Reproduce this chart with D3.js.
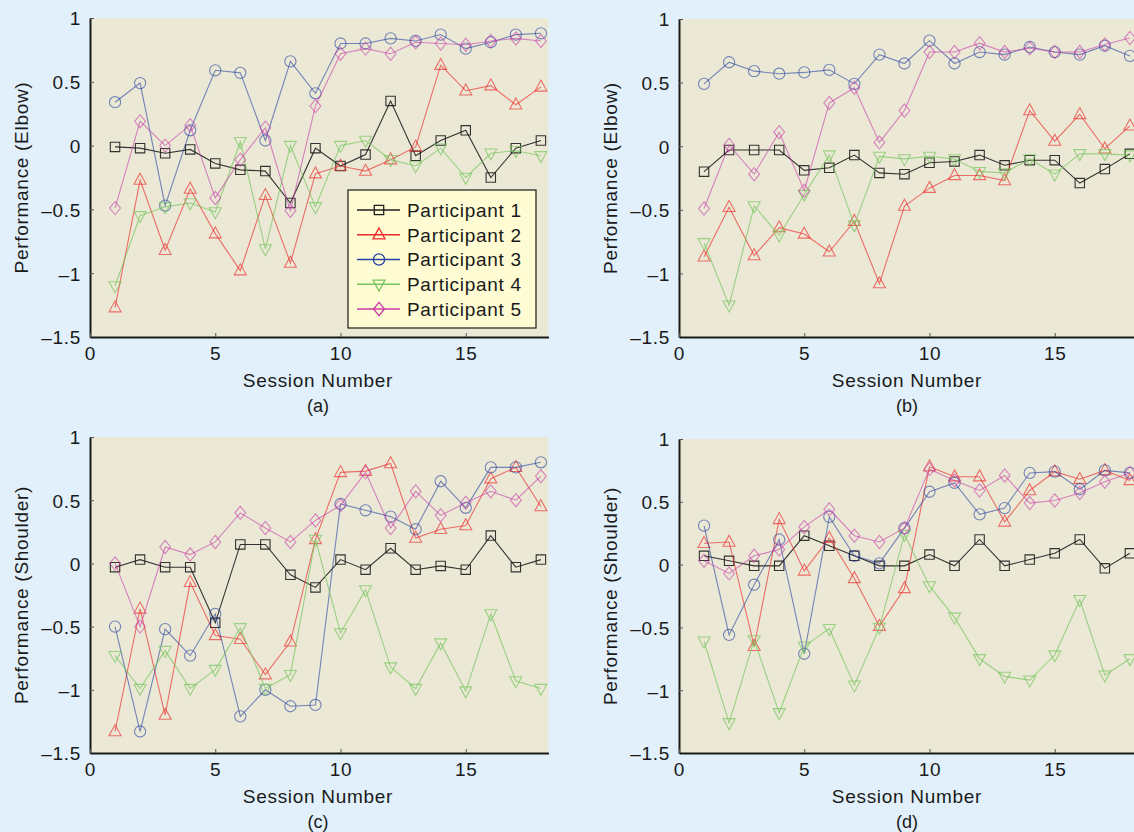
<!DOCTYPE html>
<html>
<head>
<meta charset="utf-8">
<script src="https://cdn.jsdelivr.net/npm/d3@7"></script>
<style>
  body { margin: 0; background: #e1f0fa; }
  text { font-family: "Liberation Sans", Arial, sans-serif; fill: #1a1a1a; }
</style>
</head>
<body>
<div id="chart"></div>
<script>
// Sessions and tick labels
const sessions = [1, 2, 3, 4, 5, 6, 7, 8, 9, 10, 11, 12, 13, 14, 15, 16, 17, 18];
const xTicks = [0, 5, 10, 15];
const yTicks = [-1.5, -1, -0.5, 0, 0.5, 1];
const yTickLabels = ["\u20131.5", "\u20131", "\u20130.5", "0", "0.5", "1"];
const participants = ["Participant 1", "Participant 2", "Participant 3", "Participant 4", "Participant 5"];

// (a) elbow
const elbowA1 = [-0.01, -0.02, -0.06, -0.03, -0.14, -0.19, -0.2, -0.45, -0.02, -0.16, -0.07, 0.35, -0.08, 0.04, 0.12, -0.25, -0.02, 0.04];
const elbowA2 = [-1.27, -0.27, -0.82, -0.34, -0.69, -0.98, -0.39, -0.92, -0.22, -0.16, -0.2, -0.11, -0.01, 0.63, 0.43, 0.47, 0.32, 0.46];
const elbowA3 = [0.34, 0.49, -0.47, 0.12, 0.59, 0.57, 0.04, 0.66, 0.41, 0.8, 0.8, 0.84, 0.82, 0.87, 0.76, 0.81, 0.87, 0.88];
const elbowA4 = [-1.1, -0.55, -0.48, -0.45, -0.52, 0.03, -0.81, 0.0, -0.48, 0.0, 0.04, -0.11, -0.16, -0.02, -0.25, -0.06, -0.04, -0.08];
const elbowA5 = [-0.49, 0.19, 0.0, 0.16, -0.41, -0.11, 0.14, -0.51, 0.31, 0.72, 0.76, 0.72, 0.81, 0.8, 0.79, 0.82, 0.84, 0.82];

// (b) elbow
const elbowB1 = [-0.2, -0.03, -0.03, -0.03, -0.19, -0.17, -0.07, -0.21, -0.22, -0.13, -0.12, -0.07, -0.15, -0.11, -0.11, -0.29, -0.18, -0.06];
const elbowB2 = [-0.87, -0.48, -0.86, -0.64, -0.69, -0.83, -0.59, -1.08, -0.47, -0.33, -0.23, -0.23, -0.27, 0.28, 0.04, 0.25, -0.02, 0.16];
const elbowB3 = [0.49, 0.66, 0.59, 0.57, 0.58, 0.6, 0.49, 0.72, 0.65, 0.83, 0.65, 0.74, 0.72, 0.78, 0.74, 0.72, 0.79, 0.71];
const elbowB4 = [-0.76, -1.25, -0.47, -0.7, -0.38, -0.07, -0.62, -0.08, -0.1, -0.08, -0.1, -0.2, -0.21, -0.1, -0.22, -0.06, -0.06, -0.07];
const elbowB5 = [-0.49, 0.01, -0.22, 0.11, -0.35, 0.34, 0.46, 0.03, 0.28, 0.74, 0.74, 0.81, 0.74, 0.77, 0.74, 0.74, 0.8, 0.85];

// (c) shoulder
const shoulderC1 = [-0.03, 0.03, -0.03, -0.03, -0.47, 0.15, 0.15, -0.09, -0.19, 0.03, -0.05, 0.12, -0.05, -0.02, -0.05, 0.22, -0.03, 0.03];
const shoulderC2 = [-1.33, -0.36, -1.2, -0.15, -0.57, -0.6, -0.88, -0.62, 0.19, 0.72, 0.73, 0.79, 0.2, 0.27, 0.3, 0.67, 0.76, 0.45];
const shoulderC3 = [-0.5, -1.33, -0.52, -0.73, -0.4, -1.21, -1.0, -1.13, -1.12, 0.47, 0.42, 0.37, 0.27, 0.65, 0.44, 0.76, 0.76, 0.8];
const shoulderC4 = [-0.73, -0.99, -0.69, -0.99, -0.84, -0.51, -0.99, -0.88, 0.19, -0.55, -0.21, -0.82, -0.99, -0.63, -1.01, -0.4, -0.93, -0.99];
const shoulderC5 = [0.0, -0.5, 0.13, 0.07, 0.17, 0.4, 0.28, 0.17, 0.34, 0.46, 0.72, 0.28, 0.57, 0.38, 0.48, 0.57, 0.5, 0.69];

// (d) shoulder
const shoulderD1 = [0.07, 0.03, -0.01, -0.01, 0.23, 0.15, 0.07, -0.01, -0.01, 0.08, -0.01, 0.2, -0.01, 0.04, 0.09, 0.2, -0.03, 0.09];
const shoulderD2 = [0.17, 0.18, -0.65, 0.36, -0.05, 0.21, -0.11, -0.49, -0.19, 0.78, 0.7, 0.7, 0.34, 0.59, 0.74, 0.68, 0.75, 0.67];
const shoulderD3 = [0.31, -0.56, -0.16, 0.2, -0.71, 0.38, 0.07, 0.01, 0.29, 0.58, 0.65, 0.4, 0.45, 0.73, 0.74, 0.6, 0.75, 0.73];
const shoulderD4 = [-0.61, -1.26, -0.6, -1.18, -0.65, -0.51, -0.96, -0.5, 0.24, -0.17, -0.42, -0.75, -0.89, -0.92, -0.72, -0.28, -0.88, -0.75];
const shoulderD5 = [0.03, -0.07, 0.07, 0.12, 0.3, 0.44, 0.23, 0.18, 0.29, 0.76, 0.67, 0.59, 0.71, 0.49, 0.51, 0.57, 0.66, 0.73];

// Series styles
const colors = ["#1e1e1e", "#ec2a2a", "#2440a0", "#78c45e", "#c83ca8"];
const plotOpacity = [0.9, 0.65, 0.6, 0.7, 0.6];
const markers = [
  "M-4.7,-4.7H4.7V4.7H-4.7Z",
  "M0,-6.8L6,4.2H-6Z",
  "M5.6,0A5.6,5.6 0 1,1 -5.6,0A5.6,5.6 0 1,1 5.6,0Z",
  "M0,6.8L6,-4.2H-6Z",
  "M0,-6.6L5.4,0L0,6.6L-5.4,0Z"
];

const panels = [
  { tag: "(a)", ylabel: "Performance (Elbow)", left: 90, top: 18, bottom: 337, series: [elbowA1, elbowA2, elbowA3, elbowA4, elbowA5], legend: true },
  { tag: "(b)", ylabel: "Performance (Elbow)", left: 679, top: 19, bottom: 337, series: [elbowB1, elbowB2, elbowB3, elbowB4, elbowB5] },
  { tag: "(c)", ylabel: "Performance (Shoulder)", left: 90, top: 437, bottom: 753, series: [shoulderC1, shoulderC2, shoulderC3, shoulderC4, shoulderC5] },
  { tag: "(d)", ylabel: "Performance (Shoulder)", left: 679, top: 439, bottom: 753, series: [shoulderD1, shoulderD2, shoulderD3, shoulderD4, shoulderD5] }
];

const svg = d3.select("#chart")
  .append("svg")
  .attr("width", 1134)
  .attr("height", 832);

const fontSize = "19px";
const spacing = "0.7px";

panels.forEach(p => {
  const x = d3.scaleLinear().domain([0, 18.3]).range([p.left, p.left + 18.3 * 25.05]);
  const y = d3.scaleLinear().domain([-1.5, 1]).range([p.bottom, p.top]);
  const g = svg.append("g");

  // plot background
  g.append("rect")
    .attr("x", x(0))
    .attr("y", y(1))
    .attr("width", x(18.3) - x(0))
    .attr("height", y(-1.5) - y(1))
    .attr("fill", "#ebe9d6");

  // axes
  const yAxis = g.append("g")
    .attr("transform", "translate(" + x(0) + ",0)")
    .call(d3.axisLeft(y).tickValues(yTicks).tickSizeInner(-4).tickSizeOuter(0).tickPadding(9)
      .tickFormat((d, i) => yTickLabels[i]));
  const xAxis = g.append("g")
    .attr("transform", "translate(0," + y(-1.5) + ")")
    .call(d3.axisBottom(x).tickValues(xTicks).tickSizeInner(-4).tickSizeOuter(0).tickPadding(9)
      .tickFormat(d3.format("d")));
  [yAxis, xAxis].forEach(a => {
    a.select(".domain").attr("stroke", "#1a1a1a").attr("stroke-width", 2);
    a.selectAll(".tick line").attr("stroke", "#555");
    a.selectAll("text")
      .attr("font-size", fontSize)
      .attr("letter-spacing", spacing)
      .attr("fill", "#1a1a1a")
      .attr("font-family", "'Liberation Sans', Arial, sans-serif");
  });
  yAxis.selectAll("text").attr("dy", "0.36em");
  xAxis.selectAll("text").attr("dy", "0.75em");

  // labels
  g.append("text")
    .attr("transform", "translate(" + (x(0) - 67) + "," + ((y(1) + y(-1.5)) / 2) + ") rotate(-90)")
    .attr("text-anchor", "middle")
    .attr("dominant-baseline", "middle")
    .attr("font-size", fontSize)
    .attr("letter-spacing", spacing)
    .text(p.ylabel);
  g.append("text")
    .attr("x", x(9.1))
    .attr("y", y(-1.5) + 50)
    .attr("text-anchor", "middle")
    .attr("font-size", fontSize)
    .attr("letter-spacing", spacing)
    .text("Session Number");
  g.append("text")
    .attr("x", x(9.1))
    .attr("y", y(-1.5) + 75)
    .attr("text-anchor", "middle")
    .attr("font-size", "18px")
    .text(p.tag);

  // series
  const line = d3.line().x((d, i) => x(sessions[i])).y(d => y(d));
  p.series.forEach((vals, k) => {
    const s = g.append("g")
      .attr("stroke", colors[k])
      .attr("stroke-opacity", plotOpacity[k])
      .attr("fill", "none");
    s.append("path")
      .attr("d", line(vals))
      .attr("stroke-width", 1.1);
    s.selectAll("path.m")
      .data(vals)
      .enter()
      .append("path")
      .attr("class", "m")
      .attr("d", markers[k])
      .attr("stroke-width", 1.1)
      .attr("transform", (d, i) => "translate(" + x(sessions[i]) + "," + y(d) + ")");
  });

  // legend
  if (p.legend) {
    const lg = g.append("g").attr("transform", "translate(348,190)");
    lg.append("rect")
      .attr("width", 188)
      .attr("height", 138)
      .attr("fill", "#fffcd3")
      .attr("stroke", "#1a1a1a")
      .attr("stroke-width", 1.2);
    participants.forEach((name, k) => {
      const row = lg.append("g").attr("transform", "translate(0," + (20 + k * 24.75) + ")");
      row.append("line")
        .attr("x1", 9).attr("x2", 52)
        .attr("stroke", colors[k])
        .attr("stroke-width", 1.3);
      row.append("path")
        .attr("d", markers[k])
        .attr("transform", "translate(31,0)")
        .attr("fill", "none")
        .attr("stroke", colors[k])
        .attr("stroke-width", 1.3);
      row.append("text")
        .attr("x", 59)
        .attr("dy", "0.36em")
        .attr("font-size", fontSize)
        .attr("letter-spacing", spacing)
        .text(name);
    });
  }
});
</script>
</body>
</html>
